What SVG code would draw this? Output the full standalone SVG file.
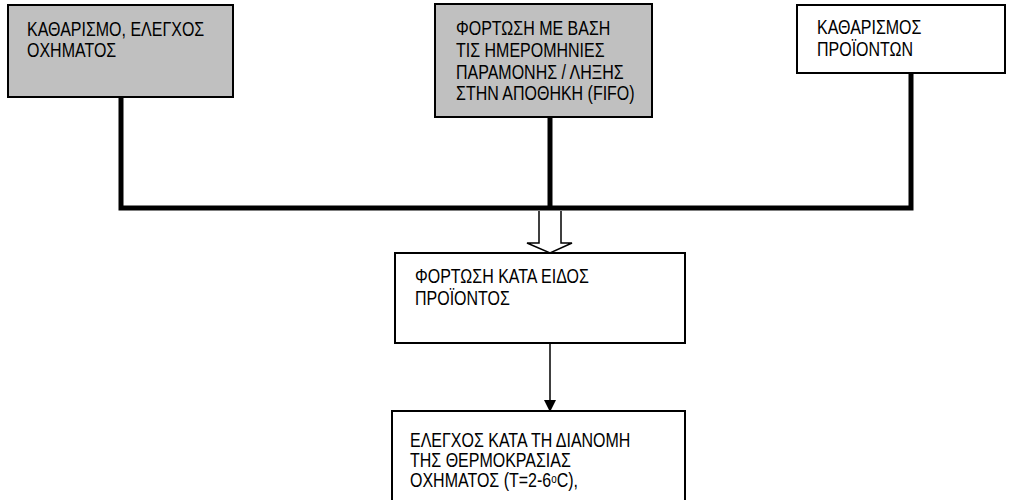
<svg xmlns="http://www.w3.org/2000/svg" width="1012" height="500" viewBox="0 0 1012 500">
<style>
.box{stroke:#000;stroke-width:2}
.grey{fill:#c0c0c0}
.white{fill:#fff}
text{font-family:"Liberation Sans",Arial,sans-serif;font-size:19.5px;fill:#000}
.thick{stroke:#000;stroke-width:5;fill:none}
.thin{stroke:#000;stroke-width:1.5;fill:none}
</style>
<defs>
<marker id="ah" markerWidth="12" markerHeight="12" refX="10" refY="6" orient="auto" markerUnits="userSpaceOnUse">
<path d="M0,0 L12,6 L0,12 Z" fill="#000"/>
</marker>
</defs>
<rect width="1012" height="500" fill="#fff"/>
<g id="connectors">
<polyline class="thick" points="121,97 121,208 911,208 911,73"/>
<line class="thick" x1="550" y1="117" x2="550" y2="208"/>
<path d="M539,211 L539,243 L527,243 L550,253 L572,243 L561,243 L561,211" fill="#fff" stroke="#000" stroke-width="1.5"/>
<line class="thin" x1="550" y1="343" x2="550" y2="410" marker-end="url(#ah)"/>
</g>
<g id="n1">
<rect class="box grey" x="8" y="5" width="225" height="92"/>
<text transform="translate(27,36) scale(0.82,1)">ΚΑΘΑΡΙΣΜΟ, ΕΛΕΓΧΟΣ</text>
<text transform="translate(27,57) scale(0.82,1)">ΟΧΗΜΑΤΟΣ</text>
</g>
<g id="n2">
<rect class="box grey" x="435" y="4" width="217" height="113"/>
<text transform="translate(456,35) scale(0.82,1)">ΦΟΡΤΩΣΗ ΜΕ ΒΑΣΗ</text>
<text transform="translate(456,57) scale(0.82,1)">ΤΙΣ ΗΜΕΡΟΜΗΝΙΕΣ</text>
<text transform="translate(456,79) scale(0.82,1)">ΠΑΡΑΜΟΝΗΣ / ΛΗΞΗΣ</text>
<text transform="translate(456,100) scale(0.82,1)">ΣΤΗΝ ΑΠΟΘΗΚΗ (FIFO)</text>
</g>
<g id="n3">
<rect class="box white" x="797" y="5" width="208" height="68"/>
<text transform="translate(817,34) scale(0.82,1)">ΚΑΘΑΡΙΣΜΟΣ</text>
<text transform="translate(817,56) scale(0.82,1)">ΠΡΟΪΟΝΤΩΝ</text>
</g>
<g id="n4">
<rect class="box white" x="395" y="253" width="290" height="90"/>
<text transform="translate(415,283) scale(0.82,1)">ΦΟΡΤΩΣΗ ΚΑΤΑ ΕΙΔΟΣ</text>
<text transform="translate(415,305) scale(0.82,1)">ΠΡΟΪΟΝΤΟΣ</text>
</g>
<g id="n5">
<rect class="box white" x="392" y="411" width="293" height="100"/>
<text transform="translate(410,447) scale(0.82,1)">ΕΛΕΓΧΟΣ ΚΑΤΑ ΤΗ ΔΙΑΝΟΜΗ</text>
<text transform="translate(410,467) scale(0.82,1)">ΤΗΣ ΘΕΡΜΟΚΡΑΣΙΑΣ</text>
<text transform="translate(410,487) scale(0.82,1)">ΟΧΗΜΑΤΟΣ (Τ=2-6<tspan font-size="12" dy="-4">o</tspan><tspan dy="4">C),</tspan></text>
</g>
</svg>
